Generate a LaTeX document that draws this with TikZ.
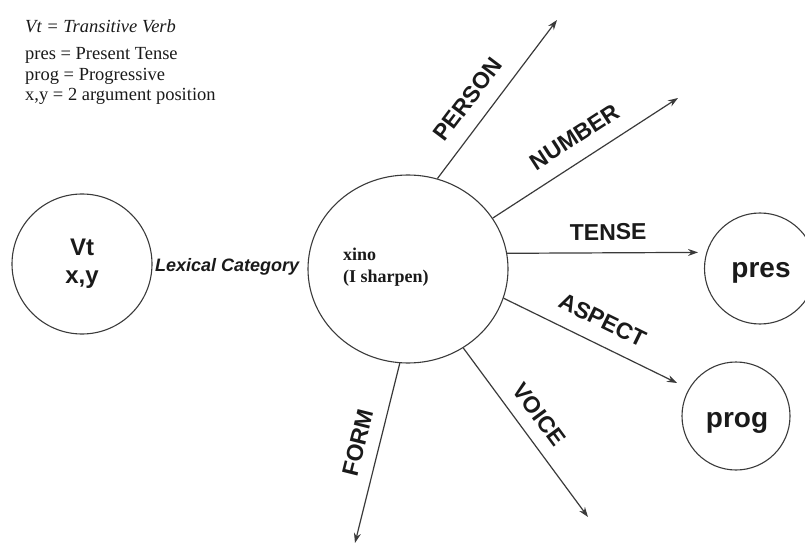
\documentclass[tikz,border=0pt]{standalone}
\usepackage{fontspec}
\setmainfont{Liberation Serif}
\setsansfont{Liberation Sans}
\usetikzlibrary{shapes.geometric,arrows.meta}
\definecolor{ink}{HTML}{1A1A1A}
\definecolor{rule}{HTML}{3A3A3A}
\begin{document}
\begin{tikzpicture}[x=1pt,y=-1pt,
  ring/.style={circle,draw=rule,line width=1.1pt,inner sep=0pt},
  feat/.style={draw=rule,line width=1.2pt,-{Stealth[length=10pt,width=7pt]}},
  featlabel/.style={sloped,above=6pt,inner sep=2pt,text=ink,
    font=\sffamily\bfseries\fontsize{23}{23}\selectfont},
  legend/.style={anchor=base west,inner sep=0pt,text=ink,
    font=\fontsize{18.5}{22}\selectfont},
  bigword/.style={anchor=base,inner sep=0pt,text=ink,
    font=\sffamily\bfseries\fontsize{28}{28}\selectfont},
  glossword/.style={anchor=base west,inner sep=0pt,text=ink,
    font=\bfseries\fontsize{18}{21}\selectfont}]
\useasboundingbox (0,0) rectangle (805,545);

% abbreviations
\node[legend,font=\itshape\fontsize{18.5}{22}\selectfont] (keyvt) at (25,33) {Vt = Transitive Verb};
\node[legend] (keypres) at (25,60) {pres = Present Tense};
\node[legend] (keyprog) at (25,81) {prog = Progressive};
\node[legend] (keyxy) at (25,101) {x,y = 2 argument position};

% lexical category circle
\node[ring,minimum size=140pt] (cat) at (82,264) {};
\node[anchor=base,inner sep=0pt,text=ink,font=\sffamily\bfseries\fontsize{24}{24}\selectfont] (catvt) at (82,255) {Vt};
\node[anchor=base,inner sep=0pt,text=ink,font=\sffamily\bfseries\fontsize{24}{24}\selectfont] (catxy) at (82,283) {x,y};
\node[anchor=base west,inner sep=0pt,text=ink,font=\sffamily\bfseries\itshape\fontsize{18}{18}\selectfont] (lexcat) at (155,271) {Lexical Category};

% the verb
\node[ellipse,draw=rule,line width=1.1pt,inner sep=0pt,minimum width=200pt,minimum height=188pt] (verb) at (408,269) {};
\node[glossword] (verbword) at (343,261) {xino};
\node[glossword] (verbgloss) at (343,282) {(I sharpen)};

% feature values
\node[ring,minimum size=111pt] (pres) at (760,268.5) {};
\node[bigword] (prestext) at (761,277) {pres};
\node[ring,minimum size=108pt] (prog) at (736,416) {};
\node[bigword] (progtext) at (737,427) {prog};

% free ends of the feature arrows
\coordinate (personEnd) at (557,20);
\coordinate (numberEnd) at (678,98);
\coordinate (tenseEnd) at (698,252.4);
\coordinate (aspectEnd) at (677,383);
\coordinate (voiceEnd) at (588,517);
\coordinate (formEnd) at (355,543);

\draw[feat] (verb.72) -- node[featlabel,pos=.41,above=7pt] (personlbl) {PERSON} (personEnd);
\draw[feat] (verb.31) -- node[featlabel,pos=.51,above=7pt] (numberlbl) {NUMBER} (numberEnd);
\draw[feat] (verb.9.6) -- node[featlabel,pos=.53,above=4pt] (tenselbl) {TENSE} (tenseEnd);
\draw[feat] (verb.-17) -- node[featlabel,pos=.51,above=7pt] (aspectlbl) {ASPECT} (aspectEnd);
\draw[feat] (verb.-55) -- node[featlabel,pos=.47,above=5pt] (voicelbl) {VOICE} (voiceEnd);
\draw[feat] (verb.265) -- node[featlabel,pos=.47,above=5pt] (formlbl) {FORM} (formEnd);
\end{tikzpicture}
\end{document}
